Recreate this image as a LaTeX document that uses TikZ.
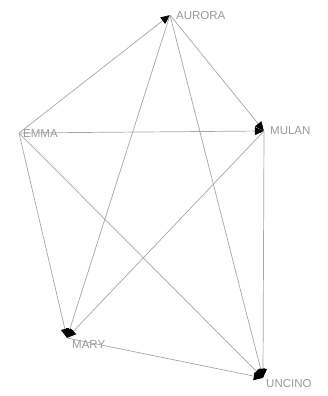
\documentclass[tikz,border=0pt]{standalone}
\usepackage{fontspec}
\setmainfont{Liberation Sans}
\usetikzlibrary{arrows.meta}

\begin{document}
\begin{tikzpicture}[
    x=1pt, y=-1pt,
    actor/.style={inner sep=0pt, minimum size=0pt},
    tag/.style={anchor=west, inner sep=0pt, text=gray!80, font=\fontsize{11.5}{12}\selectfont},
    tie/.style={-{Triangle[length=9pt, width=8pt, black]}, draw=gray!70, line width=0.7pt}
]
\useasboundingbox (0,0) rectangle (328,396);

% actors
\node[actor] (aurora) at (170,15) {};
\node[actor] (emma) at (19,133) {};
\node[actor] (mulan) at (264,131) {};
\node[actor] (mary) at (67,338) {};
\node[actor] (uncino) at (263,378) {};

\node[tag] (laurora) at (176,16) {AURORA};
\node[tag] (lemma) at (23,134) {EMMA};
\node[tag] (lmulan) at (270,131) {MULAN};
\node[tag] (lmary) at (72,345) {MARY};
\node[tag] (luncino) at (266,384) {UNCINO};

% ties
\draw[tie] (emma) -- (aurora);
\draw[tie] (aurora) -- (mulan);
\draw[tie] (emma) -- (mulan);
\draw[tie] (aurora) -- (mary);
\draw[tie] (mulan) -- (mary);
\draw[tie] (emma) -- (mary);
\draw[tie] (aurora) -- (uncino);
\draw[tie] (emma) -- (uncino);
\draw[tie] (mulan) -- (uncino);
\draw[tie] (mary) -- (uncino);

\end{tikzpicture}
\end{document}
